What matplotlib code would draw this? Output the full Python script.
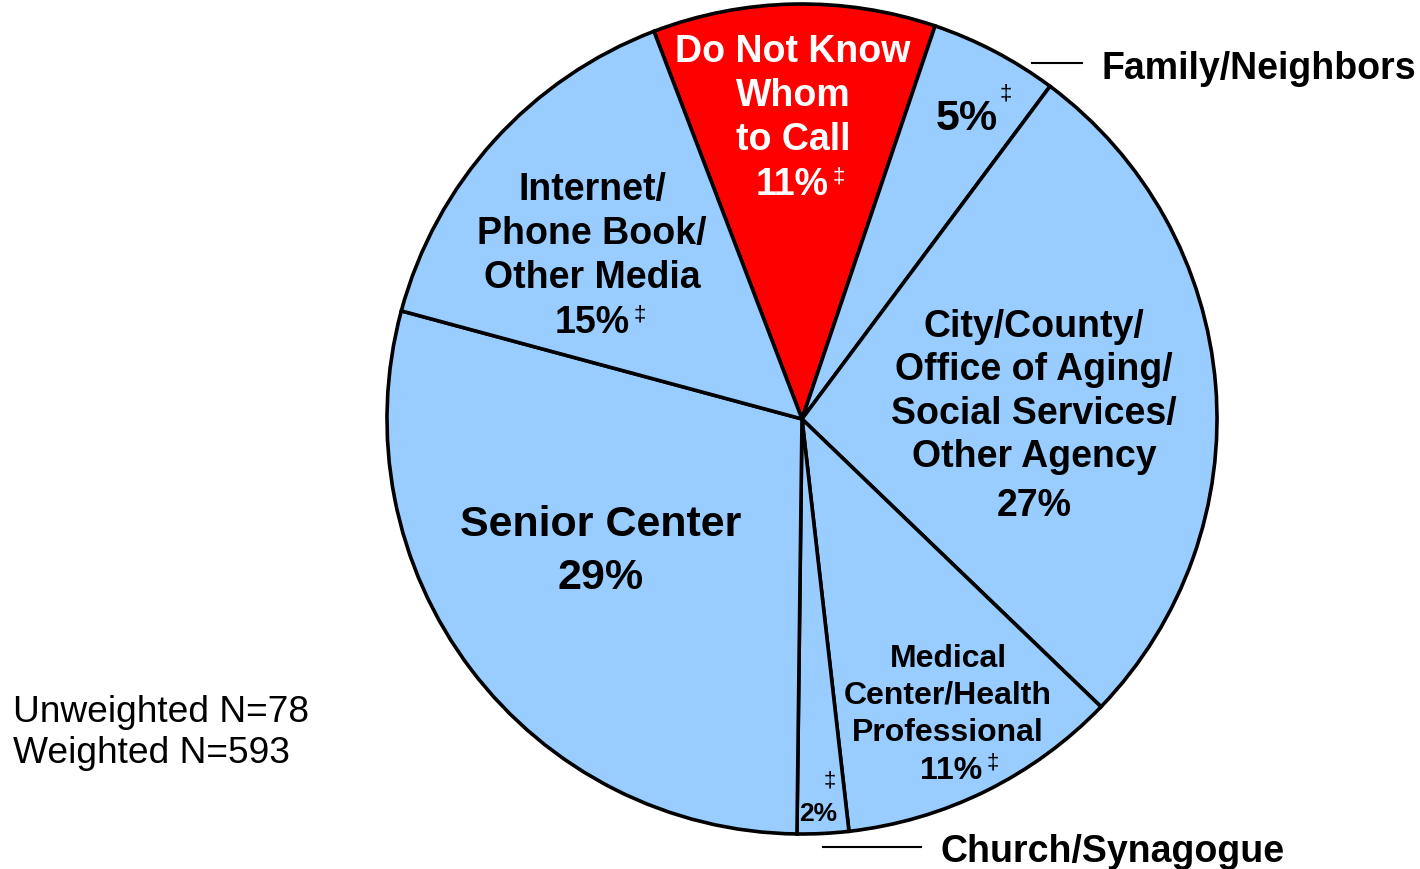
import matplotlib.pyplot as plt

plt.rcParams['font.family'] = ['Liberation Sans', 'DejaVu Sans']

# slices, clockwise from the top-left edge of the red slice
categories = ['Do Not Know Whom to Call', 'Family/Neighbors',
              'City/County/Office of Aging/Social Services/Other Agency',
              'Medical Center/Health Professional', 'Church/Synagogue',
              'Senior Center', 'Internet/Phone Book/Other Media']
shares = [11, 5, 27, 11, 2, 29, 15]
colors = ['#FF0000', '#99CCFF', '#99CCFF', '#99CCFF', '#99CCFF', '#99CCFF', '#99CCFF']
unweighted_n = 78
weighted_n = 593

W, H = 1420, 870
fig = plt.figure(figsize=(W / 100, H / 100), dpi=100)
ax = fig.add_axes([0, 0, 1, 1])


def py(y):
    # pixel row (from top) -> data y; +3 offsets va='center' sitting high
    return H - y - 3


ax.pie(shares, colors=colors, startangle=110.9, counterclock=False,
       center=(802, H - 420), radius=415,
       wedgeprops=dict(edgecolor='black', linewidth=2.6))
ax.set_xlim(0, W)
ax.set_ylim(0, H)
ax.set_aspect('equal')
ax.axis('off')

renderer = fig.canvas.get_renderer()


def name(x, y, s, size, color='black', ls=1.29):
    ax.text(x, py(y), s, fontsize=size, fontweight='bold', color=color,
            ha='center', va='center', linespacing=ls)


def pct(x, y, val, size, color='black', dagger=True):
    t = ax.text(x, py(y), f'{val}%', fontsize=size, fontweight='bold',
                color=color, ha='center', va='center')
    if dagger:
        bb = t.get_window_extent(renderer)
        ax.text(bb.x1 + 4, py(y - 8), '‡', fontsize=16, color=color,
                ha='left', va='center')


name(793, 93, 'Do Not Know\nWhom\nto Call', 27, 'white')
pct(792, 182, shares[0], 27, 'white')

pct(967, 116, shares[1], 31, dagger=False)
ax.text(1006, py(91), '‡', fontsize=16, ha='center', va='center')
ax.plot([1032, 1082], [H - 64, H - 64], color='black', lw=1.5)
ax.text(1102, py(66), 'Family/Neighbors', fontsize=27, fontweight='bold',
        ha='left', va='center')

name(1034, 389, 'City/County/\nOffice of Aging/\nSocial Services/\nOther Agency', 27, ls=1.26)
pct(1034, 503, shares[2], 27, dagger=False)

name(948, 693, 'Medical\nCenter/Health\nProfessional', 23, ls=1.31)
pct(951, 768, shares[3], 23)

pct(818, 811, shares[4], 19, dagger=False)
ax.text(830, py(778), '‡', fontsize=16, ha='center', va='center')
ax.plot([823, 921], [H - 848, H - 848], color='black', lw=1.5)
ax.text(941, py(849), 'Church/Synagogue', fontsize=27, fontweight='bold',
        ha='left', va='center')

name(601, 522, 'Senior Center', 31)
pct(601, 575, shares[5], 31, dagger=False)

name(592, 231, 'Internet/\nPhone Book/\nOther Media', 27)
pct(592, 320, shares[6], 27)

ax.text(13, py(730), f'Unweighted N={unweighted_n}\nWeighted N={weighted_n}',
        fontsize=26.7, ha='left', va='center', linespacing=1.25)

fig.savefig('out.png', dpi=100)
